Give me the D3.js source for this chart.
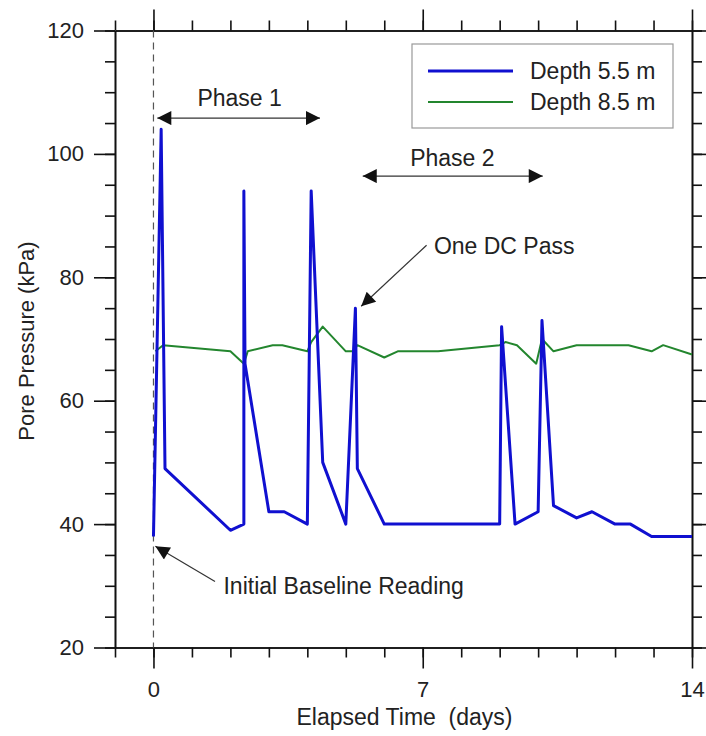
<!DOCTYPE html>
<html>
<head>
<meta charset="utf-8">
<script src="https://cdn.jsdelivr.net/npm/d3@7"></script>
<style>
  body { margin: 0; background: #fff; }
  svg { font-family: "Liberation Sans", Arial, sans-serif; }
</style>
</head>
<body>
<svg id="chart" width="706" height="736"></svg>
<script>
// depth 5.5 m piezometer
const time55 = [0, 0.2, 0.3, 2.0, 2.35, 2.35, 2.38, 3.0, 3.4, 4.0, 4.1, 4.4, 5.0, 5.25, 5.3, 6.0, 9.0, 9.05, 9.4, 10.0, 10.1, 10.4, 11.0, 11.4, 12.0, 12.4, 12.95, 14];
const kpa55  = [38, 104, 49, 39, 40, 94, 66, 42, 42, 40, 94, 50, 40, 75, 49, 40, 40, 72, 40, 42, 73, 43, 41, 42, 40, 40, 38, 38];
// depth 8.5 m piezometer
const time85 = [0.05, 0.25, 2.0, 2.35, 2.45, 3.1, 3.35, 4.0, 4.1, 4.4, 5.0, 5.2, 5.3, 6.0, 6.35, 7.4, 9.0, 9.15, 9.45, 9.95, 10.1, 10.4, 11.0, 12.35, 12.95, 13.25, 14];
const kpa85  = [68, 69, 68, 66, 68, 69, 69, 68, 69.5, 72, 68, 68, 69, 67, 68, 68, 69, 69.5, 69, 66, 70, 68, 69, 69, 68, 69, 67.5];

const seriesNames = ['Depth 5.5 m', 'Depth 8.5 m'];
const xMajorTicks = [0, 7, 14];
const yMajorTicks = [20, 40, 60, 80, 100, 120];

const svg = d3.select('#chart');
const textColor = '#222';
const fontSize = 22;
const noteSize = 23;

const x = d3.scaleLinear().domain([-1, 14]).range([115, 692]);
const y = d3.scaleLinear().domain([20, 120]).range([647.5, 30.5]);

const minorX = d3.range(-1, 15, 1);
const minorY = d3.range(20, 121, 5);

// frame + ticks
function styleAxis(g) {
  g.select('.domain').attr('stroke', '#111').attr('stroke-width', 1.6);
  g.selectAll('.tick line').attr('stroke', '#111').attr('stroke-width', 1.6);
  g.selectAll('.tick text').attr('fill', textColor).attr('font-size', fontSize)
    .attr('font-family', '"Liberation Sans", Arial, sans-serif');
}

const yBot = y.range()[0], yTop = y.range()[1];
const xLeft = x.range()[0], xRight = x.range()[1];

svg.append('g').attr('transform', `translate(0,${yBot})`)
  .call(d3.axisBottom(x).tickValues(minorX).tickSize(10).tickSizeOuter(0).tickFormat(''))
  .call(styleAxis);
svg.append('g').attr('transform', `translate(0,${yBot})`)
  .call(d3.axisBottom(x).tickValues(xMajorTicks).tickSize(21).tickSizeOuter(0).tickPadding(13).tickFormat(d3.format('d')))
  .call(styleAxis);

svg.append('g').attr('transform', `translate(0,${yTop})`)
  .call(d3.axisTop(x).tickValues(minorX).tickSize(10).tickSizeOuter(0).tickFormat(''))
  .call(styleAxis);
svg.append('g').attr('transform', `translate(0,${yTop})`)
  .call(d3.axisTop(x).tickValues(xMajorTicks).tickSize(21).tickSizeOuter(0).tickFormat(''))
  .call(styleAxis);

svg.append('g').attr('transform', `translate(${xLeft},0)`)
  .call(d3.axisLeft(y).tickValues(minorY).tickSize(10).tickSizeOuter(0).tickFormat(''))
  .call(styleAxis);
svg.append('g').attr('transform', `translate(${xLeft},0)`)
  .call(d3.axisLeft(y).tickValues(yMajorTicks).tickSize(21).tickSizeOuter(0).tickPadding(10).tickFormat(d3.format('d')))
  .call(styleAxis);

svg.append('g').attr('transform', `translate(${xRight},0)`)
  .call(d3.axisRight(y).tickValues(minorY).tickSize(10).tickSizeOuter(0).tickFormat(''))
  .call(styleAxis);
svg.append('g').attr('transform', `translate(${xRight},0)`)
  .call(d3.axisRight(y).tickValues(yMajorTicks).tickSize(21).tickSizeOuter(0).tickFormat(''))
  .call(styleAxis);

// axis titles
svg.append('text')
  .attr('x', (xLeft + xRight) / 2 + 1).attr('y', 725)
  .attr('text-anchor', 'middle').attr('fill', textColor).attr('font-size', noteSize)
  .style('white-space', 'pre')
  .text('Elapsed Time  (days)');

svg.append('text')
  .attr('transform', `translate(34,${(yTop + yBot) / 2 + 2}) rotate(-90)`)
  .attr('text-anchor', 'middle').attr('fill', textColor).attr('font-size', fontSize)
  .text('Pore Pressure (kPa)');

// baseline dashed line at t = 0
svg.append('line')
  .attr('x1', x(0)).attr('x2', x(0)).attr('y1', yTop).attr('y2', yBot)
  .attr('stroke', '#555').attr('stroke-width', 1.2).attr('stroke-dasharray', '7,5');

// series
const line = d3.line().x(d => x(d[0])).y(d => y(d[1]));
const data85 = time85.map((t, i) => [t, kpa85[i]]);
const data55 = time55.map((t, i) => [t, kpa55[i]]);

svg.append('path').datum(data85).attr('d', line)
  .attr('fill', 'none').attr('stroke', '#23862e').attr('stroke-width', 2)
  .attr('stroke-linejoin', 'round');
svg.append('path').datum(data55).attr('d', line)
  .attr('fill', 'none').attr('stroke', '#1010d0').attr('stroke-width', 3)
  .attr('stroke-linejoin', 'round');

// arrow head marker
const defs = svg.append('defs');
defs.append('marker').attr('id', 'head')
  .attr('viewBox', '0 0 10 10').attr('refX', 10).attr('refY', 5)
  .attr('markerUnits', 'userSpaceOnUse')
  .attr('markerWidth', 16).attr('markerHeight', 14)
  .attr('orient', 'auto-start-reverse')
  .append('path').attr('d', 'M0,0 L10,5 L0,10 Z').attr('fill', '#111');

function arrow(x1, y1, x2, y2, both) {
  const l = svg.append('line')
    .attr('x1', x(x1)).attr('y1', y(y1)).attr('x2', x(x2)).attr('y2', y(y2))
    .attr('stroke', '#333').attr('stroke-width', 1.2)
    .attr('marker-end', 'url(#head)');
  if (both) l.attr('marker-start', 'url(#head)');
}

function label(tx, ty, str, anchor) {
  svg.append('text').attr('x', x(tx)).attr('y', y(ty))
    .attr('dy', '0.35em').attr('text-anchor', anchor)
    .attr('fill', textColor).attr('font-size', noteSize).text(str);
}

// Phase 1
arrow(0.1, 105.8, 4.33, 105.8, true);
label(2.24, 109.1, 'Phase 1', 'middle');
// Phase 2
arrow(5.44, 96.4, 10.12, 96.4, true);
label(7.77, 99.4, 'Phase 2', 'middle');
// One DC pass
arrow(7.1, 85.2, 5.4, 75.3, false);
label(7.29, 85.1, 'One DC Pass', 'start');
// Baseline reading
arrow(1.6, 30.7, 0.05, 36.4, false);
label(1.82, 30.0, 'Initial Baseline Reading', 'start');

// legend
const legend = svg.append('g');
legend.append('rect').attr('x', 412).attr('y', 44).attr('width', 261).attr('height', 84)
  .attr('fill', '#fff').attr('stroke', '#999').attr('stroke-width', 1.2);
const legColors = ['#1010d0', '#23862e'];
const legWidths = [3, 2];
seriesNames.forEach((name, i) => {
  const ly = 71 + i * 31;
  legend.append('line').attr('x1', 428).attr('x2', 513).attr('y1', ly).attr('y2', ly)
    .attr('stroke', legColors[i]).attr('stroke-width', legWidths[i]);
  legend.append('text').attr('x', 530).attr('y', ly).attr('dy', '0.35em')
    .attr('fill', textColor).attr('font-size', noteSize).text(name);
});
</script>
</body>
</html>
